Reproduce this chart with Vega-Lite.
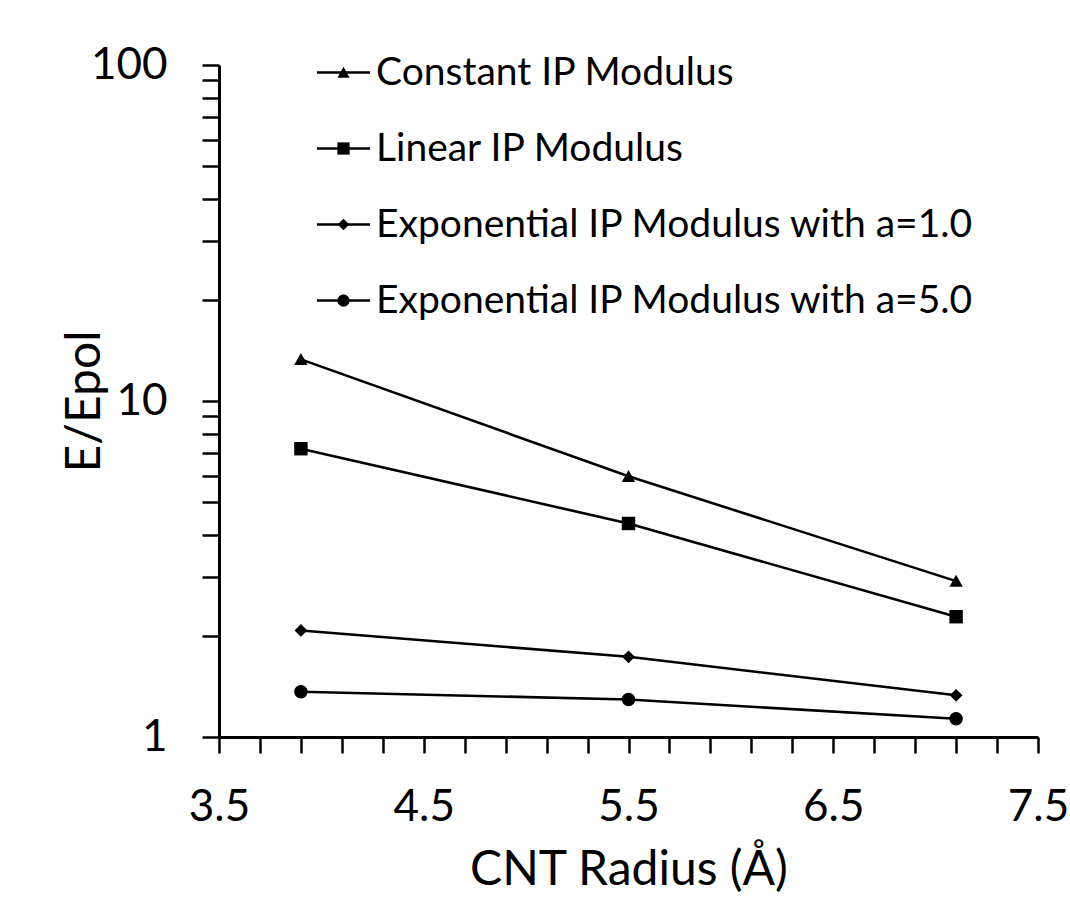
{
  "$schema": "https://vega.github.io/schema/vega-lite/v6.json",
  "width": 819,
  "height": 672,
  "autosize": {"type": "none"},
  "padding": {"left": 219, "top": 65, "right": 32, "bottom": 163},
  "background": "white",
  "config": {
    "font": "Lato",
    "view": {"stroke": null},
    "axis": {"grid": false, "domainColor": "black", "tickColor": "black", "labelColor": "black", "titleColor": "black", "titleFontWeight": "normal", "labelOverlap": false, "labelBound": false, "labelFlush": false}
  },
  "data": {
    "values": [
      {"series": "Constant IP Modulus", "radius": 3.9, "ratio": 13.3},
      {"series": "Constant IP Modulus", "radius": 5.5, "ratio": 5.97},
      {"series": "Constant IP Modulus", "radius": 7.1, "ratio": 2.91},
      {"series": "Linear IP Modulus", "radius": 3.9, "ratio": 7.21},
      {"series": "Linear IP Modulus", "radius": 5.5, "ratio": 4.32},
      {"series": "Linear IP Modulus", "radius": 7.1, "ratio": 2.28},
      {"series": "Exponential IP Modulus with a=1.0", "radius": 3.9, "ratio": 2.075},
      {"series": "Exponential IP Modulus with a=1.0", "radius": 5.5, "ratio": 1.733},
      {"series": "Exponential IP Modulus with a=1.0", "radius": 7.1, "ratio": 1.331},
      {"series": "Exponential IP Modulus with a=5.0", "radius": 3.9, "ratio": 1.363},
      {"series": "Exponential IP Modulus with a=5.0", "radius": 5.5, "ratio": 1.293},
      {"series": "Exponential IP Modulus with a=5.0", "radius": 7.1, "ratio": 1.133}
    ]
  },
  "encoding": {
    "x": {
      "field": "radius", "type": "quantitative",
      "scale": {"domain": [3.5, 7.5], "nice": false, "zero": false},
      "axis": {
        "title": "CNT Radius (Å)",
        "titleFontSize": 48,
        "titleY": 147,
        "titleBaseline": "alphabetic",
        "labelFontSize": 44,
        "labelPadding": 32,
        "tickSize": 16,
        "tickWidth": 2.5,
        "domainWidth": 3,
        "values": [3.5, 3.7, 3.9, 4.1, 4.3, 4.5, 4.7, 4.9, 5.1, 5.3, 5.5, 5.7, 5.9, 6.1, 6.3, 6.5, 6.7, 6.9, 7.1, 7.3, 7.5],
        "labelExpr": "abs((datum.value * 10) % 10 - 5) < 0.01 ? format(datum.value, '.1f') : ''",
        "encode": {"ticks": {"update": {"y2": {"signal": "abs((datum.value * 10) % 10 - 5) < 0.01 ? 16 : 13"}}}}
      }
    },
    "y": {
      "field": "ratio", "type": "quantitative",
      "scale": {"type": "log", "domain": [1, 100], "nice": false},
      "axis": {
        "title": "E/Epol",
        "titleFontSize": 48,
        "titleX": -120,
        "titleY": 336,
        "titleAngle": -90,
        "titleAlign": "center",
        "titleBaseline": "alphabetic",
        "labelFontSize": 44,
        "labelPadding": 35,
        "tickSize": 17,
        "tickWidth": 2.5,
        "domainWidth": 3,
        "values": [1, 2, 3, 4, 5, 6, 7, 8, 9, 10, 20, 30, 40, 50, 60, 70, 80, 90, 100],
        "labelExpr": "(datum.value == 1 || datum.value == 10 || datum.value == 100) ? format(datum.value, 'd') : ''",
        "encode": {"ticks": {"update": {"x2": {"signal": "(datum.value == 1 || datum.value == 10 || datum.value == 100) ? -17 : -11"}}}}
      }
    }
  },
  "layer": [
    {
      "mark": {"type": "line", "strokeWidth": 2.6},
      "encoding": {
        "color": {
          "field": "series", "type": "nominal",
          "scale": {"range": ["black"]},
          "legend": {
            "orient": "none",
            "legendX": 96.5,
            "legendY": -20.5,
            "title": null,
            "symbolType": "stroke",
            "symbolSize": 2809,
            "symbolStrokeWidth": 2.5,
            "symbolStrokeColor": "black",
            "symbolOpacity": 1,
            "labelFontSize": 10,
            "labelOpacity": 0,
            "labelExpr": "''",
            "rowPadding": 43
          }
        }
      }
    },
    {
      "mark": {"type": "point", "filled": true, "color": "black", "opacity": 1, "size": 180},
      "encoding": {
        "shape": {
          "field": "series", "type": "nominal",
          "scale": {
            "domain": ["Constant IP Modulus", "Linear IP Modulus", "Exponential IP Modulus with a=1.0", "Exponential IP Modulus with a=5.0"],
            "range": ["M0,-0.95L1,0.85H-1Z", "M-1,-1H1V1H-1Z", "M0,-0.95L0.95,0L0,0.95L-0.95,0Z", "M1,0A1,1 0 1,1 -1,0A1,1 0 1,1 1,0Z"]
          },
          "legend": {
            "orient": "none",
            "legendX": 105,
            "legendY": -12,
            "title": null,
            "labelFontSize": 39,
            "labelColor": "black",
            "labelOffset": 13,
            "labelLimit": 0,
            "rowPadding": 36,
            "symbolSize": 150,
            "symbolFillColor": "black",
            "symbolOpacity": 1
          }
        }
      }
    }
  ]
}
